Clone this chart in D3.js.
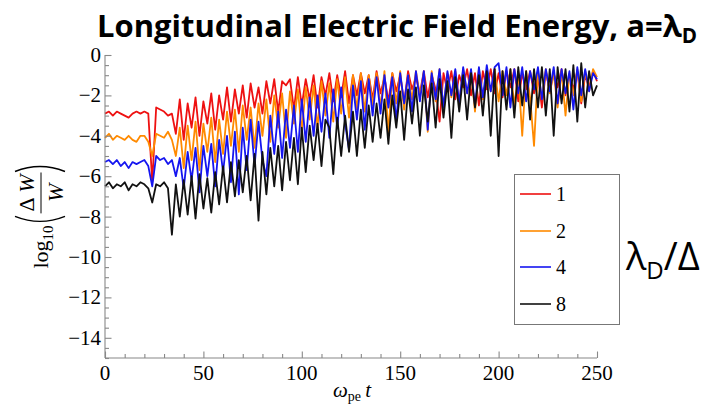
<!DOCTYPE html>
<html><head><meta charset="utf-8">
<script src="https://cdn.jsdelivr.net/npm/d3@7"></script>
<style>html,body{margin:0;padding:0;background:#fff;}svg{display:block;}</style>
</head><body>
<svg id="c" width="718" height="412"></svg>
<script>
// ---- data (sampled every 2 units of ω_pe t, starting at 0) ----
const timeStep = 2;
const seriesNames = ["1", "2", "4", "8"];
const seriesColors = ["#ee1111", "#ff8a00", "#1515f0", "#111111"];
const xTicks = [0, 50, 100, 150, 200, 250];
const yTicks = [0, -2, -4, -6, -8, -10, -12, -14];

const red = [
 -2.9,-2.8,-3.0,-2.8,-2.9,-3.0,-3.1,-2.9,-2.8,-2.9,
 -2.8,-2.9,-6.3,-2.6,-2.7,-2.8,-3.0,-2.9,-3.9,-2.2,
 -4.2,-2.4,-3.6,-2.1,-4.0,-2.3,-3.4,-1.9,-3.7,-2.0,
 -3.2,-1.6,-3.3,-1.7,-2.9,-1.5,-3.1,-1.4,-2.6,-1.6,
 -2.9,-1.3,-2.4,-1.2,-2.8,-1.3,-1.5,-1.2,-2.7,-1.1,
 -2.5,-1.2,-2.2,-1.0,-2.6,-1.1,-2.0,-0.9,-2.3,-1.0,
 -2.1,-0.8,-2.4,-1.0,-2.0,-0.9,-1.9,-1.0,-2.2,-0.8,
 -1.9,-1.1,-2.3,-0.9,-1.8,-1.0,-2.4,-0.8,-1.7,-1.1,
 -1.9,-0.8,-2.1,-1.0,-1.7,-3.3,-0.9,-1.8,-0.8,-2.2,
 -1.0,-1.6,-0.7,-2.0,-0.9,-2.5,-0.8,-1.7,-0.7,-1.9,
 -0.9,-2.1,-0.8,-1.6,-0.7,-2.3,-0.9,-1.7,-0.8,-1.9,
 -1.0,-2.6,-0.8,-1.8,-0.9,-1.6,-0.7,-2.0,-1.0,-1.7,
 -0.8,-2.4,-1.0,-1.6,-0.8,-1.3
];
const orange = [
 -4.1,-3.9,-4.2,-4.0,-4.1,-4.2,-4.0,-4.2,-4.3,-4.0,
 -4.0,-4.3,-5.0,-3.9,-4.0,-4.1,-3.8,-4.2,-5.0,-3.6,
 -5.6,-3.5,-5.2,-3.3,-5.7,-3.4,-4.8,-3.1,-5.3,-3.2,
 -4.9,-2.8,-4.5,-2.7,-4.8,-2.5,-4.2,-2.6,-4.6,-2.4,
 -4.0,-2.2,-4.3,-2.0,-3.6,-1.9,-4.1,-1.8,-3.4,-1.7,
 -3.8,-1.6,-3.2,-1.5,-3.6,-1.3,-3.0,-1.4,-3.3,-1.2,
 -2.9,-1.1,-3.1,-1.0,-2.7,-0.9,-2.8,-1.0,-2.5,-0.9,
 -2.6,-0.8,-3.9,-0.9,-2.4,-0.8,-2.7,-1.0,-2.2,-0.8,
 -2.0,-0.9,-3.8,-0.8,-2.3,-0.7,-2.6,-0.9,-2.1,-0.8,
 -2.4,-0.7,-1.9,-0.8,-2.8,-0.7,-2.2,-0.9,-1.8,-0.7,
 -2.3,-0.8,-2.0,-0.7,-2.5,-0.9,-4.0,-0.8,-2.1,-4.5,
 -0.8,-2.2,-0.7,-1.9,-0.9,-2.6,-0.8,-3.0,-0.9,-2.0,
 -0.7,-2.3,-0.8,-1.8,-0.7,-1.1
];
const blue = [
 -5.3,-5.2,-5.4,-5.2,-5.5,-5.3,-5.6,-5.3,-5.4,-5.3,
 -5.2,-5.5,-6.5,-5.0,-5.2,-5.1,-5.4,-5.2,-6.0,-5.1,
 -6.6,-4.8,-6.2,-4.6,-6.8,-4.5,-6.0,-4.4,-6.5,-4.2,
 -5.8,-4.0,-6.3,-3.8,-6.9,-3.6,-5.7,-3.2,-5.5,-3.3,
 -5.2,-6.0,-3.0,-4.9,-2.8,-5.1,-2.7,-4.6,-2.5,-4.8,
 -2.2,-4.3,-2.1,-4.0,-2.0,-3.8,-1.9,-4.1,-1.7,-3.6,
 -1.6,-3.4,-4.7,-1.5,-3.2,-1.3,-3.7,-1.2,-3.0,-1.1,
 -2.9,-1.0,-2.6,-1.1,-3.3,-0.9,-2.4,-1.0,-2.8,-0.8,
 -2.3,-0.8,-3.7,-0.9,-2.2,-0.7,-2.6,-0.8,-2.0,-0.7,
 -2.4,-0.6,-1.9,-0.7,-2.5,-0.6,-2.1,-0.5,-1.8,-0.6,
 -0.4,-2.0,-0.6,-2.6,-0.7,-1.9,-0.6,-2.3,-0.8,-1.7,
 -0.6,-2.2,-0.7,-1.8,-0.6,-2.4,-0.7,-1.9,-0.8,-2.7,
 -0.6,-2.0,-0.7,-1.8,-0.9,-1.2
];
const black = [
 -6.5,-6.3,-6.6,-6.4,-6.5,-6.3,-6.7,-6.4,-6.5,-6.3,
 -6.4,-6.6,-7.3,-6.4,-6.5,-6.3,-6.6,-8.9,-6.4,-8.0,
 -6.2,-7.9,-6.0,-8.1,-5.9,-7.6,-6.1,-7.8,-5.8,-7.4,
 -5.5,-7.3,-5.3,-7.0,-5.2,-6.8,-5.0,-7.2,-4.9,-8.2,
 -4.8,-6.9,-4.6,-6.5,-4.5,-6.7,-4.3,-6.2,-4.1,-6.4,
 -3.6,-5.8,-3.5,-5.2,-3.4,-5.5,-3.2,-3.6,-5.9,-3.1,
 -5.0,-3.0,-4.8,-2.8,-5.0,-2.7,-4.6,-2.5,-4.3,-2.4,
 -4.1,-2.2,-4.4,-2.0,-3.6,-1.8,-4.2,-1.7,-3.4,-1.6,
 -4.0,-1.5,-3.3,-1.4,-3.6,-1.2,-3.1,-1.3,-4.1,-1.1,
 -2.8,-1.0,-3.2,-0.9,-2.6,-1.0,-3.0,-0.8,-4.0,-0.7,
 -5.0,-0.8,-2.7,-0.7,-3.1,-0.6,-2.5,-0.8,-3.2,-0.7,
 -2.6,-0.6,-3.0,-0.7,-4.0,-0.6,-2.4,-0.7,-2.8,-0.5,
 -3.3,-0.4,-2.6,-0.8,-2.0,-1.5
];
const allSeries = [red, orange, blue, black];

// ---- drawing ----
const svg = d3.select("#c");
const serif = "'Liberation Serif','Times New Roman',serif";
const sans = "'Open Sans','Noto Sans',sans-serif";
const x = d3.scaleLinear().domain([0, 250]).range([105, 597]);
const y = d3.scaleLinear().domain([0, -15]).range([55, 358]);
const axisCol = "#888";

// series
const line = d3.line().x((d, i) => x(i * timeStep)).y(d => y(d));
allSeries.forEach((s, k) => {
  svg.append("path").datum(s).attr("d", line)
    .attr("fill", "none").attr("stroke", seriesColors[k])
    .attr("stroke-width", 1.8).attr("stroke-linejoin", "round");
});

// axes
const xAxis = svg.append("g").attr("transform", `translate(0,${y(-15)})`);
xAxis.call(d3.axisBottom(x).tickValues(d3.range(0, 251, 10)).tickSize(-4).tickFormat(""));
xAxis.selectAll(".tick").filter(d => d % 50 === 0).select("line").attr("y2", -6.5);
xAxis.select(".domain").attr("d", `M${x(0)},0H${x(250)}`);
xAxis.selectAll("line,path").attr("stroke", axisCol).attr("stroke-width", 1.1);
xTicks.forEach(v => {
  svg.append("text").attr("x", x(v)).attr("y", 380).attr("text-anchor", "middle")
    .attr("font-family", serif).attr("font-size", 21).text(v);
});

const yAxis = svg.append("g").attr("transform", `translate(${x(0)},0)`);
yAxis.call(d3.axisLeft(y).tickValues(d3.range(0, -15.01, -0.5)).tickSize(-4).tickFormat(""));
yAxis.selectAll(".tick").filter(d => Math.abs(d % 2) < 1e-9).select("line").attr("x2", 6.5);
yAxis.select(".domain").attr("d", `M0,${y(0)}V${y(-15)}`);
yAxis.selectAll("line,path").attr("stroke", axisCol).attr("stroke-width", 1.1);
yTicks.forEach(v => {
  svg.append("text").attr("x", 101).attr("y", y(v) + 7).attr("text-anchor", "end")
    .attr("font-family", serif).attr("font-size", 21).text(v === 0 ? "0" : "\u2212" + Math.abs(v));
});

// x label
const xl = svg.append("text").attr("x", 352).attr("y", 397).attr("text-anchor", "middle")
  .attr("font-family", serif).attr("font-size", 21);
xl.append("tspan").attr("font-style", "italic").text("\u03c9");
xl.append("tspan").attr("font-size", 14).attr("dy", 4).text("pe");
xl.append("tspan").attr("dy", -4).attr("font-style", "italic").text("\u2009t");

// y label (rotated)
const yl = svg.append("g");
let cur = 0;
function addText(txt, size, dy, italic) {
  const t = yl.append("text").attr("x", cur).attr("y", dy).attr("font-family", serif)
    .attr("font-size", size).attr("font-style", italic ? "italic" : "normal").text(txt);
  return t.node().getComputedTextLength();
}
cur += addText("log", 22, 0, false);
cur += addText("10", 15, 5, false) + 2;
const pTop = -33, pBot = 17;
yl.append("path").attr("d", `M${cur + 7},${pTop} Q${cur - 3},${(pTop + pBot) / 2} ${cur + 7},${pBot}`)
  .attr("fill", "none").attr("stroke", "#000").attr("stroke-width", 1.4);
cur += 10;
const fracStart = cur;
const num = yl.append("text").attr("y", -14).attr("font-family", serif).attr("font-size", 22);
num.append("tspan").text("\u0394\u2009");
num.append("tspan").attr("font-style", "italic").text("W");
const nw = num.node().getComputedTextLength();
const den = yl.append("text").attr("y", 15).attr("font-family", serif).attr("font-size", 22)
  .attr("font-style", "italic").text("W");
const dw = den.node().getComputedTextLength();
const fw = Math.max(nw, dw) + 4;
num.attr("x", fracStart + (fw - nw) / 2);
den.attr("x", fracStart + (fw - dw) / 2);
yl.append("line").attr("x1", fracStart).attr("x2", fracStart + fw).attr("y1", -7).attr("y2", -7)
  .attr("stroke", "#000").attr("stroke-width", 1);
cur += fw + 1;
yl.append("path").attr("d", `M${cur},${pTop} Q${cur + 10},${(pTop + pBot) / 2} ${cur},${pBot}`)
  .attr("fill", "none").attr("stroke", "#000").attr("stroke-width", 1.4);
cur += 8;
yl.attr("transform", `translate(48,${216 + cur / 2}) rotate(-90)`);

// title
const title = svg.append("text").attr("x", 397).attr("y", 37).attr("text-anchor", "middle")
  .attr("font-family", sans).attr("font-weight", 700).attr("font-size", 30);
title.append("tspan").text("Longitudinal Electric Field Energy, a=\u03bb");
title.append("tspan").attr("font-size", 20).attr("dy", 6).text("D");
const tw = title.node().getComputedTextLength();
title.attr("font-size", 30 * 600 / tw);
title.select("tspan:nth-child(2)").attr("font-size", 20 * 600 / tw);

// legend
svg.append("rect").attr("x", 514.5).attr("y", 174.5).attr("width", 105).attr("height", 150)
  .attr("fill", "#fff").attr("stroke", "#777").attr("stroke-width", 1);
const rowsY = [194, 231, 267, 304];
seriesNames.forEach((n, i) => {
  svg.append("line").attr("x1", 520).attr("x2", 551).attr("y1", rowsY[i]).attr("y2", rowsY[i])
    .attr("stroke", seriesColors[i]).attr("stroke-width", 1.6);
  svg.append("text").attr("x", 556).attr("y", rowsY[i] + 7).attr("font-family", serif)
    .attr("font-size", 20).text(n);
});

// λ_D/Δ annotation
const lam = svg.append("text").attr("x", 626).attr("y", 270).attr("font-family", sans).attr("font-size", 38);
lam.append("tspan").text("\u03bb");
lam.append("tspan").attr("font-size", 24).attr("dy", 9).text("D");
lam.append("tspan").attr("dy", -9).text("/\u0394");
</script>
</body></html>
